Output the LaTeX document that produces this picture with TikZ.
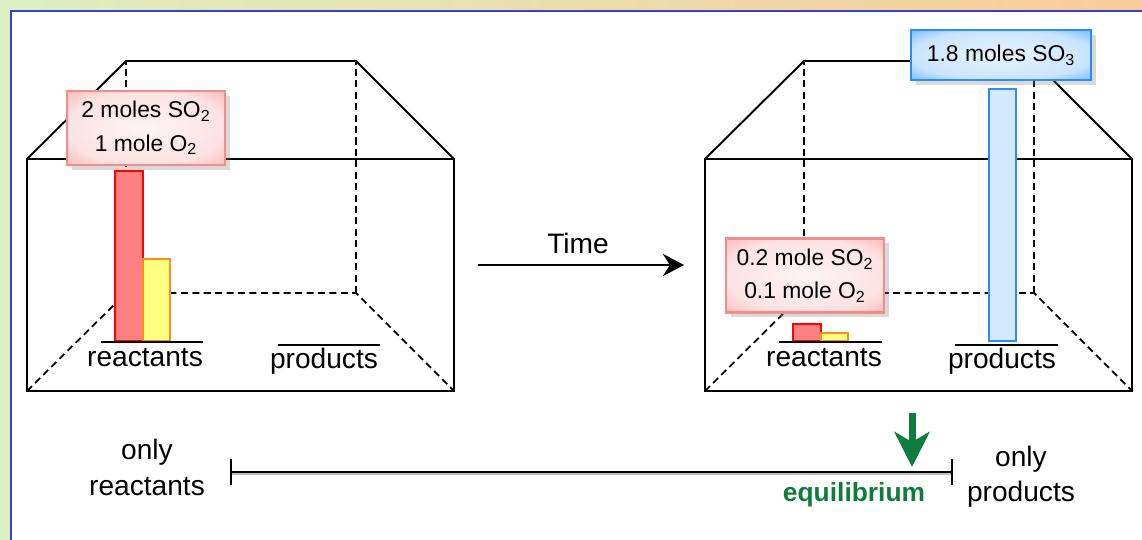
\documentclass[tikz,border=0pt]{standalone}
\usepackage{fontspec}
\setmainfont{Liberation Sans}
\usetikzlibrary{arrows.meta,shadows}
\definecolor{stripgreen}{HTML}{DCEFC0}
\definecolor{striporange}{HTML}{F9CC98}
\definecolor{frameblue}{HTML}{3D3DD6}
\definecolor{barred}{HTML}{FF8080}
\definecolor{baryellow}{HTML}{FFFF80}
\definecolor{barblue}{HTML}{D5E8FC}
\definecolor{lineblue}{HTML}{2B8CFF}
\definecolor{pinkfill}{HTML}{F9A0A0}
\definecolor{pinkline}{HTML}{F48C8C}
\definecolor{skyfill}{HTML}{4DA6FF}
\definecolor{eqgreen}{HTML}{0E7C3A}
\colorlet{yellowline}{orange!90}
\pgfdeclareradialshading{pinkglow}{\pgfpoint{0bp}{0bp}}{color(0bp)=(pinkfill!12);
  color(25bp)=(pinkfill!30); color(38bp)=(pinkfill!80); color(48bp)=(pinkfill); color(75bp)=(pinkfill)}
\pgfdeclareradialshading{skyglow}{\pgfpoint{0bp}{0bp}}{color(0bp)=(skyfill!12);
  color(25bp)=(skyfill!30); color(38bp)=(skyfill!85); color(48bp)=(skyfill); color(75bp)=(skyfill)}

\begin{document}
\begin{tikzpicture}
\useasboundingbox (0,0) rectangle (22.84,10.8);
\tikzset{solidedge/.style={line width=1.1pt}}
\tikzset{hiddenedge/.style={line width=1pt,dash pattern=on 4pt off 2.5pt}}
\tikzset{bigtext/.style={font=\fontsize{16}{20}\selectfont,align=center,inner sep=0}}
\tikzset{molebox/.style={draw=pinkline,line width=1.5pt,shading=pinkglow,
  drop shadow={opacity=0.3,shadow xshift=0.1cm,shadow yshift=-0.1cm},
  align=center,font=\fontsize{13}{19}\selectfont,minimum width=3.16cm,minimum height=1.48cm}}
\tikzset{skybox/.style={molebox,draw=lineblue,shading=skyglow,
  minimum width=3.6cm,minimum height=1cm}}

% background
\shade[left color=stripgreen,right color=striporange] (0,10.6) rectangle (22.84,10.8);
\fill[stripgreen] (0,0) rectangle (0.22,10.6);
\draw[frameblue,line width=1.2pt] (0.22,0) -- (0.22,10.58) -- (22.84,10.58);

% the two containers
\foreach \dx/\bx in {0/L,13.56/R}{
  \begin{scope}[xshift=\dx cm]
    \coordinate (\bx fbl) at (0.54,2.98);
    \coordinate (\bx fbr) at (9.08,2.98);
    \coordinate (\bx ftl) at (0.54,7.62);
    \coordinate (\bx ftr) at (9.08,7.62);
    \coordinate (\bx bbl) at (2.52,4.94);
    \coordinate (\bx bbr) at (7.12,4.94);
    \coordinate (\bx btl) at (2.52,9.58);
    \coordinate (\bx btr) at (7.12,9.58);
  \end{scope}
  \draw[hiddenedge] (\bx fbl) -- (\bx bbl) -- (\bx bbr) -- (\bx fbr);
  \draw[hiddenedge] (\bx bbl) -- (\bx btl);
  \draw[hiddenedge] (\bx bbr) -- (\bx btr);
  \draw[solidedge] (\bx fbl) rectangle (\bx ftr);
  \draw[solidedge] (\bx ftl) -- (\bx btl) -- (\bx btr) -- (\bx ftr);
}

% bars before
\filldraw[fill=barred,draw=red,line width=1.2pt] (2.30,3.98) rectangle (2.86,7.38);
\filldraw[fill=baryellow,draw=yellowline,line width=1.2pt] (2.86,3.98) rectangle (3.40,5.62);
% bars after
\filldraw[fill=barred,draw=red,line width=1.2pt] (15.86,3.98) rectangle (16.42,4.32);
\filldraw[fill=baryellow,draw=yellowline,line width=1.2pt] (16.42,3.98) rectangle (16.96,4.14);
\filldraw[fill=barblue,draw=lineblue,line width=1.3pt] (19.78,3.98) rectangle (20.32,9.02);

% floor labels
\node[bigtext] (reactL) at (2.90,3.64) {reactants};
\node[bigtext] (prodL) at (6.48,3.58) {products};
\node[bigtext] (reactR) at (16.48,3.64) {reactants};
\node[bigtext] (prodR) at (20.04,3.58) {products};
\draw[solidedge] (2.02,3.96) -- (4.06,3.96);
\draw[solidedge] (5.56,3.90) -- (7.60,3.90);
\draw[solidedge] (15.58,3.96) -- (17.64,3.96);
\draw[solidedge] (19.10,3.90) -- (21.16,3.90);

% amounts
\node[molebox] (startmix) at (2.92,8.24) {2 moles SO\textsubscript{2}\\1 mole O\textsubscript{2}};
\node[molebox] (eqmix) at (16.10,5.29) {0.2 mole SO\textsubscript{2}\\0.1 mole O\textsubscript{2}};
\node[skybox] (eqprod) at (20.02,9.70) {1.8 moles SO\textsubscript{3}};

% time arrow
\node[bigtext] (time) at (11.56,5.94) {Time};
\coordinate (tstart) at (9.56,5.50);
\coordinate (tend) at (13.68,5.50);
\draw[line width=1.7pt,-{Stealth[length=0.42cm,width=0.44cm]}] (tstart) -- (tend);

% scale
\coordinate (scaleL) at (4.60,1.36);
\coordinate (scaleR) at (19.06,1.36);
\draw[gray!50,line width=1pt] ([yshift=-1.3pt]scaleL) -- ([yshift=-1.3pt]scaleR);
\draw[line width=1.1pt,{Bar[width=0.52cm]}-{Bar[width=0.52cm]}] (scaleL) -- (scaleR);
\node[bigtext] (onlyreact) at (2.94,1.45) {only\\reactants};
\node[bigtext] (onlyprod) at (20.42,1.27) {only\\products};
\node[bigtext,font=\fontsize{15}{20}\selectfont\bfseries,text=eqgreen] (eqlabel) at (17.08,0.90) {equilibrium};
\coordinate (eqtop) at (18.24,2.54);
\coordinate (eqtip) at (18.24,1.46);
\draw[eqgreen,line width=4pt,-{Stealth[length=0.7cm,width=0.7cm,inset=0.2cm]}] (eqtop) -- (eqtip);
\end{tikzpicture}
\end{document}
